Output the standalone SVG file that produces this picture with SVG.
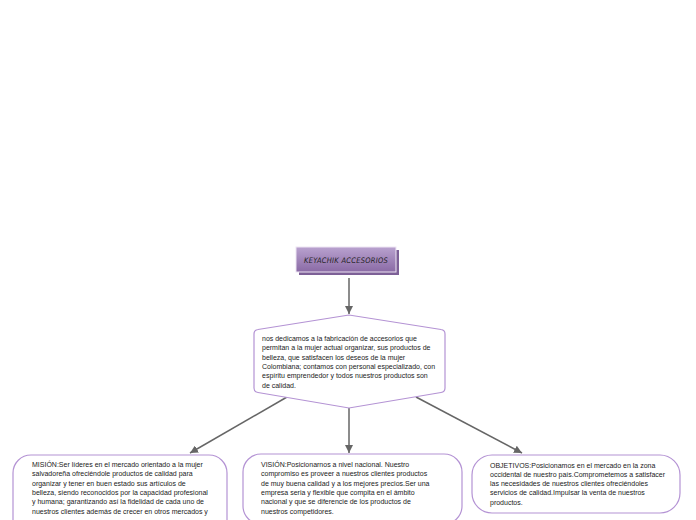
<svg xmlns="http://www.w3.org/2000/svg" width="696" height="520" viewBox="0 0 696 520">
<defs>
<linearGradient id="tg" x1="0" y1="0" x2="0" y2="1">
<stop offset="0" stop-color="#b9a2cf"/>
<stop offset="1" stop-color="#8a6aa5"/>
</linearGradient>
<marker id="ah" viewBox="0 0 10 10" refX="10" refY="5" markerWidth="8" markerHeight="8" markerUnits="userSpaceOnUse" orient="auto">
<path d="M0,0 L10,5 L0,10 z" fill="#666"/>
</marker>
</defs>
<style>
.node{fill:#fff;stroke:#b493d4;stroke-width:1.2}
.t{font-family:"Liberation Sans",Arial,sans-serif;font-size:7px;fill:#1a1a1a}
.c{stroke:#666;stroke-width:1.5;fill:none;marker-end:url(#ah)}
</style>
<rect width="696" height="520" fill="#fff"/>
<g id="connectors">
<line class="c" x1="349" y1="278" x2="349" y2="314"/>
<line class="c" x1="287" y1="397" x2="190" y2="453"/>
<line class="c" x1="349" y1="408" x2="349" y2="453"/>
<line class="c" x1="416" y1="397" x2="522" y2="453"/>
</g>
<g id="title">
<rect x="299" y="250" width="100" height="25" fill="#7d6097"/>
<rect x="296" y="247" width="100" height="25" fill="url(#tg)" stroke="#eee6f4" stroke-width="1"/>
<text x="346" y="262.8" text-anchor="middle" font-family="'DejaVu Sans',sans-serif" font-size="7.6" font-style="italic" fill="#1e1e1e" letter-spacing="0.3" textLength="84" lengthAdjust="spacingAndGlyphs">KEYACHIK ACCESORIOS</text>
</g>
<g id="center">
<path class="node" d="M349,315 L258,329.5 Q254,330 254,334 L254,388 Q254,392 258,392.5 L349,408 L441,392.5 Q445,392 445,388 L445,334 Q445,330 441,329.5 Z"/>
<text class="t" x="262" y="340.5">nos dedicamos a la fabricación de accesorios que</text>
<text class="t" x="262" y="350">permitan a la mujer actual organizar, sus productos de</text>
<text class="t" x="262" y="359.5">belleza, que satisfacen los deseos de la mujer</text>
<text class="t" x="262" y="369">Colombiana; contamos con personal especializado, con</text>
<text class="t" x="262" y="378.3">espíritu emprendedor y todos nuestros productos son</text>
<text class="t" x="262" y="387.5">de calidad.</text>
</g>
<g id="mision">
<rect class="node" x="13" y="455" width="214" height="95" rx="18"/>
<text class="t" x="32" y="467">MISIÓN:Ser líderes en el mercado orientado a la mujer</text>
<text class="t" x="32" y="476.3">salvadoreña ofreciéndole productos de calidad para</text>
<text class="t" x="32" y="485.6">organizar y tener en buen estado sus artículos de</text>
<text class="t" x="32" y="494.9">belleza, siendo reconocidos por la capacidad profesional</text>
<text class="t" x="32" y="504.2">y humana; garantizando así la fidelidad de cada uno de</text>
<text class="t" x="32" y="513.5">nuestros clientes además de crecer en otros mercados y</text>
</g>
<g id="vision">
<rect class="node" x="243" y="454" width="219" height="70" rx="18"/>
<text class="t" x="261" y="467">VISIÓN:Posicionarnos a nivel nacional. Nuestro</text>
<text class="t" x="261" y="476.3">compromiso es proveer a nuestros clientes productos</text>
<text class="t" x="261" y="485.6">de muy buena calidad y a los mejores precios.Ser una</text>
<text class="t" x="261" y="494.9">empresa seria y flexible que compita en el ámbito</text>
<text class="t" x="261" y="504.2">nacional y que se diferencie de los productos de</text>
<text class="t" x="261" y="513.5">nuestros competidores.</text>
</g>
<g id="objetivos">
<rect class="node" x="472" y="455" width="208" height="58" rx="20"/>
<text class="t" x="490" y="467.5">OBJETIVOS:Posicionamos en el mercado en la zona</text>
<text class="t" x="490" y="476.8">occidental de nuestro país.Comprometemos a satisfacer</text>
<text class="t" x="490" y="486.1">las necesidades de nuestros clientes ofreciéndoles</text>
<text class="t" x="490" y="495.4">servicios de calidad.Impulsar la venta de nuestros</text>
<text class="t" x="490" y="504.7">productos.</text>
</g>
</svg>
